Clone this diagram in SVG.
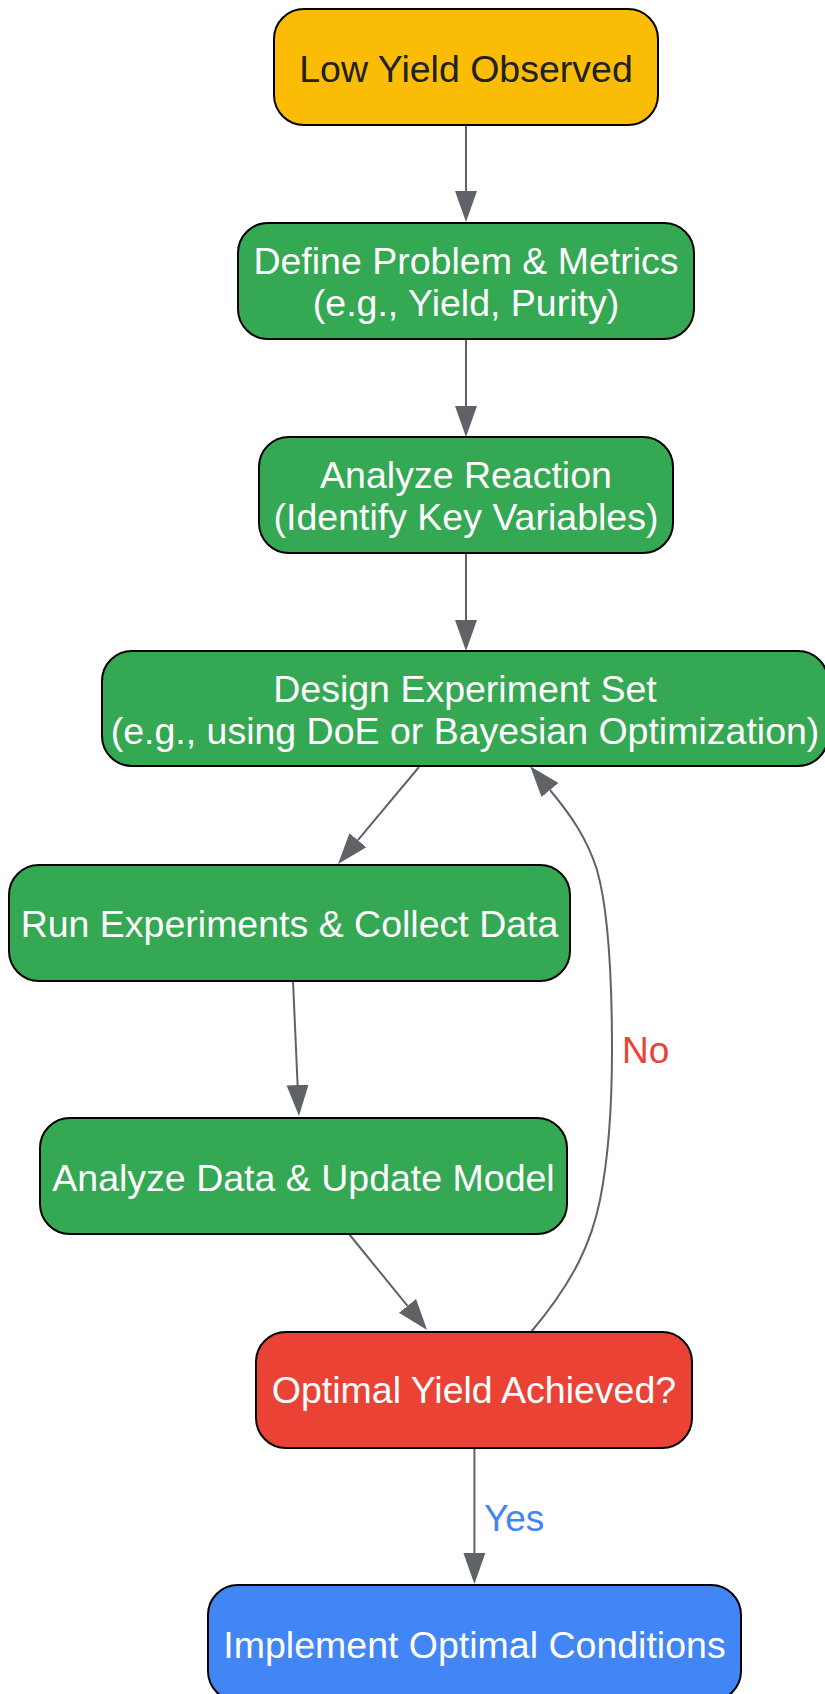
<svg xmlns="http://www.w3.org/2000/svg" width="825" height="1694" viewBox="0 0 825 1694">
<style>
.node rect{stroke:#000;stroke-width:2}
.t{font-family:"Liberation Sans",Arial,sans-serif;font-size:37.5px;text-anchor:middle;fill:#fff}
.dark{fill:#202124}
.edge{fill:none;stroke:#5f6368;stroke-width:2}
.lbl{font-family:"Liberation Sans",Arial,sans-serif;font-size:37px}
</style>
<defs>
<marker id="ah" markerUnits="userSpaceOnUse" markerWidth="32" markerHeight="24" viewBox="0 0 32 24" refX="0" refY="12" orient="auto">
<path d="M0,1 L31,12 L0,23 z" fill="#5f6368"/>
</marker>
</defs>
<rect width="825" height="1694" fill="#fff"/>
<g id="connectors">
<path class="edge" d="M466,125 L466,191" marker-end="url(#ah)"/>
<path class="edge" d="M466,339 L466,406" marker-end="url(#ah)"/>
<path class="edge" d="M466,553 L466,620" marker-end="url(#ah)"/>
<path class="edge" d="M419,767 L357.9,840.2" marker-end="url(#ah)"/>
<path class="edge" d="M293,981 L297.6,1085" marker-end="url(#ah)"/>
<path class="edge" d="M349,1234 L407.5,1305.9" marker-end="url(#ah)"/>
<path class="edge" d="M474.4,1448 L474.4,1553" marker-end="url(#ah)"/>
<path class="edge" d="M531,1332 C575,1280 592,1240 600,1200 C610,1150 612,1100 612,1050 C612,970 607,905 597,870 C587,838 570,814 550,790" marker-end="url(#ah)"/>
<text class="lbl" x="622" y="1063" fill="#ea4335">No</text>
<text class="lbl" x="484" y="1531" fill="#4285f4">Yes</text>
</g>
<g id="n1" class="node">
<rect x="274" y="9" width="384" height="116" rx="30" fill="#fbbc05"/>
<text class="t dark" x="466" y="82">Low Yield Observed</text>
</g>
<g id="n2" class="node">
<rect x="238" y="223" width="456" height="116" rx="30" fill="#34a853"/>
<text class="t" x="466" y="274">Define Problem &amp; Metrics</text>
<text class="t" x="466" y="316">(e.g., Yield, Purity)</text>
</g>
<g id="n3" class="node">
<rect x="259" y="437" width="414" height="116" rx="30" fill="#34a853"/>
<text class="t" x="466" y="488">Analyze Reaction</text>
<text class="t" x="466" y="530">(Identify Key Variables)</text>
</g>
<g id="n4" class="node">
<rect x="102" y="651" width="726" height="115" rx="30" fill="#34a853"/>
<text class="t" x="465" y="702">Design Experiment Set</text>
<text class="t" x="465" y="744">(e.g., using DoE or Bayesian Optimization)</text>
</g>
<g id="n5" class="node">
<rect x="9" y="865" width="561" height="116" rx="30" fill="#34a853"/>
<text class="t" x="289.5" y="937">Run Experiments &amp; Collect Data</text>
</g>
<g id="n6" class="node">
<rect x="40" y="1118" width="527" height="116" rx="30" fill="#34a853"/>
<text class="t" x="303.5" y="1191">Analyze Data &amp; Update Model</text>
</g>
<g id="n7" class="node">
<rect x="256" y="1332" width="436" height="116" rx="30" fill="#ea4335"/>
<text class="t" x="474" y="1403">Optimal Yield Achieved?</text>
</g>
<g id="n8" class="node">
<rect x="208" y="1585" width="533" height="116" rx="30" fill="#4285f4"/>
<text class="t" x="474.5" y="1658">Implement Optimal Conditions</text>
</g>
</svg>
